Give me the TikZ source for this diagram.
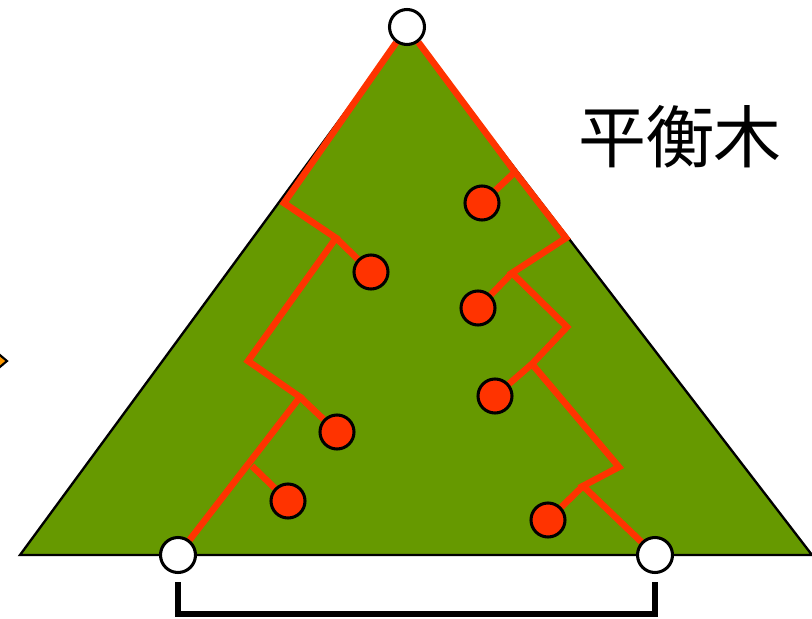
\documentclass[tikz,border=0pt]{standalone}
\usepackage{fontspec}
\newfontfamily\cjkfont{Noto Sans CJK JP}
\usetikzlibrary{positioning}
\definecolor{treegreen}{RGB}{102,153,0}
\definecolor{branchred}{RGB}{255,51,0}
\definecolor{markorange}{RGB}{255,153,0}
\pgfdeclarelayer{tree}
\pgfdeclarelayer{twigs}
\pgfsetlayers{tree,twigs,main}
\tikzset{
  endpoint/.style={circle, draw=black, line width=2.6pt, fill=white, minimum size=1.05cm, inner sep=0pt},
  leaf/.style={circle, draw=black, line width=2.6pt, fill=branchred, minimum size=1.02cm, inner sep=0pt},
  redline/.style={draw=branchred, line width=5.6pt},
}

\begin{document}
\begin{tikzpicture}[x=0.03cm, y=-0.03cm]
\useasboundingbox (0,0) rectangle (812,619);
\clip (0,0) rectangle (812,619);

% === end points ===
\node[endpoint] (root) at (407,27) {};
\node[endpoint] (lend) at (178,555) {};
\node[endpoint] (rend) at (655,555) {};

% === leaves ===
\node[leaf] (l1) at (371,272) {};
\node[leaf] (l2) at (337,432) {};
\node[leaf] (l3) at (288,501) {};
\node[leaf] (r1) at (482,203) {};
\node[leaf] (r2) at (478,308) {};
\node[leaf] (r3) at (495,396) {};
\node[leaf] (r4) at (548,520) {};

% === joints ===
\coordinate (a1) at (284,203);
\coordinate (a2) at (336,238);
\coordinate (a3) at (248,361);
\coordinate (a4) at (300,397);
\coordinate (a5) at (252,466);
\coordinate (b1) at (515,172);
\coordinate (b2) at (566,238);
\coordinate (b3) at (512,273);
\coordinate (b4) at (567,327);
\coordinate (b5) at (532,364);
\coordinate (b6) at (619,467);
\coordinate (b7) at (583,486);

\node[font=\cjkfont\fontsize{58}{60}\selectfont] (title) at (680,137) {平衡木};

% === tree ===
\begin{pgfonlayer}{tree}
\filldraw[fill=treegreen, draw=black, line width=2pt] (407,28) -- (20,555) -- (812,555) -- cycle;
\end{pgfonlayer}

\begin{pgfonlayer}{twigs}
\draw[redline] (root) -- (a1) -- (a2) -- (a3) -- (a4) -- (lend);
\draw[redline] (root) -- (b1) -- (b2) -- (b3) -- (b4) -- (b5) -- (b6) -- (b7) -- (rend);
\draw[redline] (a2) -- (l1);
\draw[redline] (a4) -- (l2);
\draw[redline] (a5) -- (l3);
\draw[redline] (b1) -- (r1);
\draw[redline] (b3) -- (r2);
\draw[redline] (b5) -- (r3);
\draw[redline] (b7) -- (r4);
\end{pgfonlayer}

% === bracket ===
\coordinate (lfoot) at (178,582);
\coordinate (rfoot) at (655,582);
\draw[line width=5pt] (lfoot) -- ++(0,32) -| (rfoot);

% === marker at left edge ===
\filldraw[fill=markorange, draw=black, line width=1.8pt] (-12,345) -- (7,361) -- (-12,377) -- cycle;

\end{tikzpicture}
\end{document}
